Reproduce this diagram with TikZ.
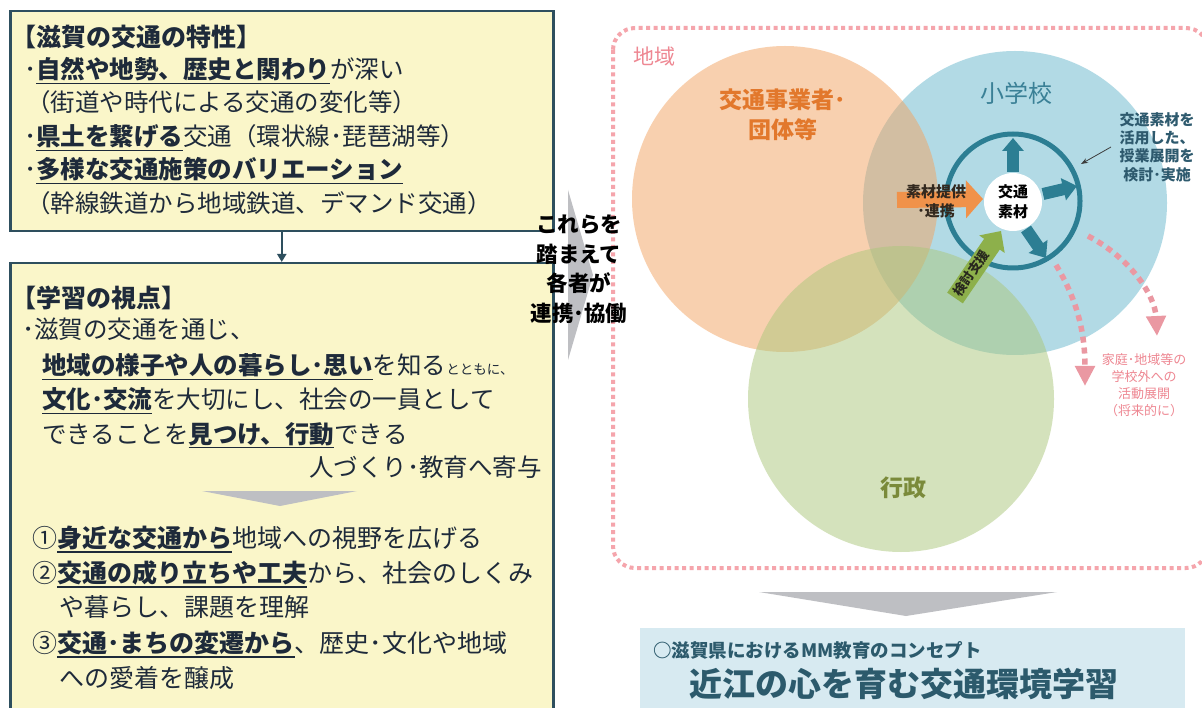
\documentclass[tikz,border=0pt]{standalone}
\usepackage{fontspec}
\setmainfont{Noto Sans CJK JP}
\usetikzlibrary{arrows.meta}
\definecolor{boxfill}{RGB}{250,246,201}
\definecolor{boxline}{RGB}{46,79,94}
\definecolor{navy}{RGB}{30,42,58}
\definecolor{grayA}{RGB}{190,191,195}
\definecolor{pinkdot}{RGB}{245,165,172}
\definecolor{pinkdash}{RGB}{234,152,162}
\definecolor{pinktxt}{RGB}{238,135,146}
\definecolor{orgbase}{RGB}{243,163,97}
\definecolor{bluebase}{RGB}{103,183,205}
\definecolor{grnbase}{RGB}{171,199,123}
\definecolor{orgtxt}{RGB}{226,120,44}
\definecolor{bluetxt}{RGB}{58,128,150}
\definecolor{grntxt}{RGB}{122,138,58}
\definecolor{tealc}{RGB}{44,126,147}
\definecolor{orgarrow}{RGB}{240,146,74}
\definecolor{grnarrow}{RGB}{141,176,75}
\definecolor{anntxt}{RGB}{46,90,110}
\definecolor{conceptfill}{RGB}{215,234,241}
\definecolor{concepttxt}{RGB}{44,90,108}
\newsavebox\ulbbox
\newcommand\ulb[1]{\sbox\ulbbox{\bfseries #1}\rlap{\rule[-0.2em]{\wd\ulbbox}{1.2pt}}\usebox\ulbbox}
\begin{document}
\begin{tikzpicture}[x=1pt,y=-1pt,
  jt/.style={anchor=base west, inner sep=0pt, text=navy, font=\fontsize{24.5}{29}\selectfont},
  jtb/.style={anchor=base west, inner sep=0pt, text=navy, font=\fontsize{25}{30}\selectfont\bfseries},
  jtc/.style={anchor=base west, inner sep=0pt, text=navy, font=\fontsize{25}{30}\selectfont},
  ybox/.style={draw=boxline, fill=boxfill, line width=2.5pt, anchor=north west, inner sep=0pt, minimum width=543pt},
  conn/.style={draw=boxline, line width=2pt, -{Triangle[width=9pt,length=8pt]}},
  midtxt/.style={align=center, inner sep=0pt, font=\fontsize{21.5}{29.5}\selectfont\bfseries},
  tealarrow/.style={draw=tealc, line width=12pt, -{Triangle[width=22pt,length=14pt]}},
  pinkarrow/.style={draw=pinkdash, line width=5.5pt, dash pattern=on 6pt off 5pt, -{Triangle[width=19pt,length=20pt]}},
]
\useasboundingbox (0,0) rectangle (1202,708);
\fill[white] (0,0) rectangle (1202,708);

% ---- left boxes
\node[ybox, minimum height=220pt] (box1) at (9,10) {};
\node[ybox, minimum height=470pt] (box2) at (9,262) {};
\draw[conn] (box1.south) -- (box2.north);

\node[jtb] (t0) at (11,46.5) {【滋賀の交通の特性】};
\node[jt] (t1) at (24,79) {･\ulb{自然や地勢、歴史と関わり}が深い};
\node[jt] (t2) at (26,112) {（街道や時代による交通の変化等）};
\node[jt] (t3) at (24,146) {･\ulb{県土を繋げる}交通（環状線･琵琶湖等）};
\node[jt] (t4) at (24,179) {･\ulb{多様な交通施策のバリエーション}};
\node[jt] (t5) at (26,213) {（幹線鉄道から地域鉄道、デマンド交通）};

\node[jtb] (b0) at (11,307.5) {【学習の視点】};
\node[jt] (b1) at (22,339) {･滋賀の交通を通じ、};
\node[jt] (b2) at (42,375) {\ulb{地域の様子や人の暮らし･思い}を知る{\fontsize{13.5}{16}\selectfont とともに、}};
\node[jt] (b3) at (42,409) {\ulb{文化･交流}を大切にし、社会の一員として};
\node[jt] (b4) at (42,443) {できることを\ulb{見つけ、行動}できる};
\node[jt, anchor=base east] (b5) at (542,476) {人づくり･教育へ寄与};
\fill[grayA] (202,491) -- (357,491) -- (280,506) -- cycle;
\node[jtc] (c1) at (32,547.5) {①\ulb{身近な交通から}地域への視野を広げる};
\node[jtc] (c2) at (32,582.5) {②\ulb{交通の成り立ちや工夫}から、社会のしくみ};
\node[jtc] (c3) at (59,616.5) {や暮らし、課題を理解};
\node[jtc] (c4) at (32,652.5) {③\ulb{交通･まちの変遷から}、歴史･文化や地域};
\node[jtc] (c5) at (59,687.5) {への愛着を醸成};

% ---- region
\draw[pinkdot, line width=4pt, dash pattern=on 4pt off 3.5pt, rounded corners=22pt] (613,28) rectangle (1208,568);
\node[text=pinktxt, font=\fontsize{21}{24}\selectfont, inner sep=0pt] (region) at (654,57) {地域};

% ---- middle arrow and text
\fill[grayA] (568,190) -- (593,275) -- (568,360) -- cycle;
\node[midtxt, text=black] (mid) at (579,269) {これらを\\踏まえて\\各者が\\連携･協働};

% ---- venn
\fill[bluebase, fill opacity=0.5] (1015,203) circle[radius=152pt];
\fill[orgbase, fill opacity=0.5] (785,199) circle[radius=153pt];
\fill[grnbase, fill opacity=0.5] (901,399) circle[radius=153pt];

\node[align=center, text=orgtxt, font=\fontsize{23}{30}\selectfont\bfseries, inner sep=0pt] (lorg) at (783,115) {交通事業者･\\団体等};
\node[text=bluetxt, font=\fontsize{24}{28}\selectfont, inner sep=0pt] (lblue) at (1016,93) {小学校};
\node[text=grntxt, font=\fontsize{23}{28}\selectfont\bfseries, inner sep=0pt] (lgrn) at (903,488) {行政};

% ---- inner ring
\draw[tealc, line width=5pt] (1013,201) circle[radius=67pt];
\node[circle, fill=white, minimum size=58pt, inner sep=0pt, align=center, font=\fontsize{15}{20}\selectfont\bfseries] (mat) at (1013,202) {交通\\素材};

\coordinate (upS) at (1013,172);
\coordinate (upT) at (1013,138);
\coordinate (rS) at (1043,194);
\coordinate (rT) at (1077,186);
\coordinate (dS) at (1026,229);
\coordinate (dT) at (1046,258);
\draw[tealarrow, -{Triangle[width=21pt,length=13pt]}] (upS) -- (upT);
\draw[tealarrow] (rS) -- (rT);
\draw[tealarrow] (dS) -- (dT);

\coordinate (oS) at (897,200);
\coordinate (oT) at (983,199);
\draw[orgarrow, line width=16pt, -{Triangle[width=37pt,length=17pt]}] (oS) -- (oT);
\node[align=center, text={rgb,255:red,50;green,40;blue,30}, font=\fontsize{15}{19}\selectfont\bfseries, inner sep=0pt] (sozai) at (936,201) {素材提供\\･連携};

\coordinate (gS) at (955,298);
\coordinate (gT) at (1001,231);
\draw[grnarrow, line width=19pt, -{Triangle[width=30pt,length=16pt]}] (gS) -- (gT);
\node[rotate=55.5, text={rgb,255:red,40;green,40;blue,30}, font=\fontsize{13}{15}\selectfont\bfseries, inner sep=0pt] (kento) at (971,273) {検討支援};

% ---- annotation
\node[align=center, text=anntxt, font=\fontsize{15}{18.3}\selectfont\bfseries, inner sep=0pt] (ann) at (1157,147) {交通素材を\\活用した、\\授業展開を\\検討･実施};
\coordinate (annS) at (1111,147);
\coordinate (annT) at (1081,164);
\draw[line width=0.8pt, draw={rgb,255:red,60;green,60;blue,60}, -{Stealth[length=7pt,width=5pt]}] (annS) -- (annT);

% ---- pink arrows
\coordinate (p1S) at (1056,265);
\coordinate (p1T) at (1085,386);
\draw[pinkarrow] (p1S) .. controls (1076,298) and (1085,330) .. (p1T);
\coordinate (p2S) at (1088,236);
\coordinate (p2T) at (1157,336);
\draw[pinkarrow] (p2S) .. controls (1130,258) and (1155,295) .. (p2T);
\node[align=center, text=pinktxt, font=\fontsize{13}{17}\selectfont, inner sep=0pt] (home) at (1144,385) {家庭･地域等の\\学校外への\\活動展開\\（将来的に）};

% ---- concept
\fill[grayA] (759,592) -- (1057,592) -- (906,616) -- cycle;
\node[fill=conceptfill, anchor=north west, minimum width=545pt, minimum height=90pt, inner sep=0pt] (concept) at (640,628) {};
\node[anchor=west, text=concepttxt, font=\fontsize{18.5}{20}\selectfont\bfseries, inner sep=0pt] (csub) at (653,650) {○滋賀県におけるMM教育のコンセプト};
\node[text=concepttxt, font=\fontsize{33}{36}\selectfont\bfseries, inner sep=0pt] (ctitle) at (904,684) {近江の心を育む交通環境学習};
\end{tikzpicture}
\end{document}
